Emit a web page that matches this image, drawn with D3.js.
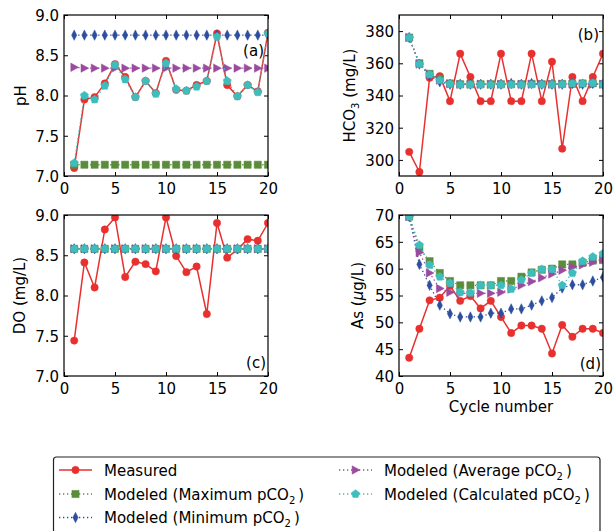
<!DOCTYPE html>
<html>
<head>
<meta charset="utf-8">
<script src="https://cdn.jsdelivr.net/npm/d3@7"></script>
<style>
  html, body { margin: 0; padding: 0; background: #fff; }
  svg { display: block; font-family: "DejaVu Sans", sans-serif; }
</style>
</head>
<body>
<svg id="chart" width="614" height="531"></svg>
<script>
// ---------------- DATA ----------------
const cycles = [1, 2, 3, 4, 5, 6, 7, 8, 9, 10, 11, 12, 13, 14, 15, 16, 17, 18, 19, 20];
const xTicks = [0, 5, 10, 15, 20];

// (a) pH
const phMeasured = [7.10, 7.95, 7.98, 8.15, 8.39, 8.23, 7.98, 8.18, 8.03, 8.43, 8.07, 8.06, 8.13, 8.18, 8.77, 8.13, 7.99, 8.13, 8.05, 8.78];
const phMax = [7.14, 7.14, 7.14, 7.14, 7.14, 7.14, 7.14, 7.14, 7.14, 7.14, 7.14, 7.14, 7.14, 7.14, 7.14, 7.14, 7.14, 7.14, 7.14, 7.14];
const phMin = [8.75, 8.75, 8.75, 8.75, 8.75, 8.75, 8.75, 8.75, 8.75, 8.75, 8.75, 8.75, 8.75, 8.75, 8.75, 8.75, 8.75, 8.75, 8.75, 8.75];
const phAvg = [8.35, 8.34, 8.34, 8.34, 8.34, 8.34, 8.34, 8.34, 8.34, 8.34, 8.34, 8.34, 8.34, 8.34, 8.34, 8.34, 8.34, 8.34, 8.34, 8.34];
const phCalc = [7.16, 8.00, 7.95, 8.12, 8.38, 8.20, 7.98, 8.18, 8.02, 8.40, 8.08, 8.06, 8.11, 8.18, 8.73, 8.18, 7.99, 8.13, 8.04, 8.77];
const phTicks = [7.0, 7.5, 8.0, 8.5, 9.0];

// (b) HCO3
const hcoMeasured = [305, 292.5, 351, 352, 336.5, 366, 351.5, 336.5, 336.5, 366, 336.5, 336.5, 366, 336.5, 361, 307, 351.5, 336.5, 351.5, 366];
const hcoMax = [376, 360, 353.5, 350.5, 347.5, 347, 347, 347, 347, 347, 347, 347, 347.2, 347, 347, 347.2, 347.2, 347.5, 347.5, 347];
const hcoMin = [376, 359.5, 352.5, 348.5, 347, 347, 347, 347, 347, 347, 347.5, 347, 347.5, 347, 347, 347, 347.5, 347, 347.5, 347];
const hcoAvg = [376, 359.5, 353, 349.5, 347.2, 347, 347, 347, 347, 347, 347, 347, 347, 347, 347, 347, 347, 347, 347, 347];
const hcoCalc = [376, 359.5, 353, 349.5, 347.2, 346.8, 346.8, 346.8, 346.8, 346.8, 346.8, 346.8, 346.8, 346.8, 346.8, 347, 347.5, 347.5, 347.8, 347];
const hcoTicks = [300, 320, 340, 360, 380];

// (c) DO
const doMeasured = [7.44, 8.41, 8.10, 8.82, 8.97, 8.23, 8.42, 8.39, 8.30, 8.97, 8.49, 8.29, 8.36, 7.77, 8.90, 8.47, 8.57, 8.70, 8.68, 8.90];
const doMax = [8.58, 8.58, 8.58, 8.58, 8.58, 8.58, 8.58, 8.58, 8.58, 8.58, 8.58, 8.58, 8.58, 8.58, 8.58, 8.58, 8.58, 8.58, 8.58, 8.58];
const doMin = [8.58, 8.58, 8.58, 8.58, 8.58, 8.58, 8.58, 8.58, 8.58, 8.58, 8.58, 8.58, 8.58, 8.58, 8.58, 8.58, 8.58, 8.58, 8.58, 8.58];
const doAvg = [8.58, 8.58, 8.58, 8.58, 8.58, 8.58, 8.58, 8.58, 8.58, 8.58, 8.58, 8.58, 8.58, 8.58, 8.58, 8.58, 8.58, 8.58, 8.58, 8.58];
const doCalc = [8.58, 8.58, 8.58, 8.58, 8.58, 8.58, 8.58, 8.58, 8.58, 8.58, 8.58, 8.58, 8.58, 8.58, 8.58, 8.58, 8.58, 8.58, 8.58, 8.58];
const doTicks = [7.0, 7.5, 8.0, 8.5, 9.0];

// (d) As
const asMeasured = [43.4, 48.8, 54.1, 54.6, 56.8, 54.0, 54.9, 52.6, 54.0, 51.0, 48.0, 49.4, 49.4, 48.8, 44.2, 49.5, 47.3, 48.8, 48.8, 48.0];
const asMax = [69.7, 63.8, 61.4, 59.2, 57.7, 56.9, 56.9, 56.9, 56.9, 57.7, 57.7, 58.5, 59.3, 59.8, 60.0, 60.8, 60.8, 61.1, 61.5, 61.6];
const asMin = [69.7, 60.8, 56.9, 53.2, 51.6, 51.0, 51.0, 51.0, 51.7, 51.7, 52.5, 52.5, 53.2, 54.0, 54.6, 56.4, 57.0, 57.0, 57.7, 58.4];
const asAvg = [69.7, 63.0, 59.2, 56.3, 55.6, 55.4, 55.4, 55.4, 55.4, 55.6, 56.2, 56.9, 57.6, 58.3, 59.0, 59.7, 60.3, 60.7, 61.2, 61.8];
const asCalc = [69.7, 64.4, 60.7, 58.5, 57.3, 55.6, 55.5, 56.9, 56.9, 56.9, 56.2, 57.9, 59.2, 59.9, 59.9, 56.9, 59.2, 61.4, 62.2, 62.8];
const asTicks = [40, 45, 50, 55, 60, 65, 70];

const seriesNames = ["Measured", "Modeled (Maximum pCO2)", "Modeled (Minimum pCO2)", "Modeled (Average pCO2)", "Modeled (Calculated pCO2)"];

// ---------------- STYLE ----------------
const styles = [
  { color: "#e8302f", shape: "circle", solid: true },
  { color: "#5b8c3b", shape: "square", solid: false },
  { color: "#2d4d9e", shape: "diamond", solid: false },
  { color: "#9a4a9f", shape: "triangle", solid: false },
  { color: "#3ebdbd", shape: "pentagon", solid: false }
];

function markerPath(shape) {
  switch (shape) {
    case "circle": return d3.symbol(d3.symbolCircle, Math.PI * 3.7 * 3.7)();
    case "square": return "M-3.6,-3.6H3.6V3.6H-3.6Z";
    case "diamond": return "M0,-5.2L2.6,0L0,5.2L-2.6,0Z";
    case "triangle": return "M-3.4,-4.2L4.4,0L-3.4,4.2Z";
    case "pentagon": {
      const r = 4.3; const pts = [];
      for (let i = 0; i < 5; i++) {
        const a = -Math.PI / 2 + i * 2 * Math.PI / 5;
        pts.push([r * Math.cos(a), r * Math.sin(a)]);
      }
      return "M" + pts.map(p => p[0].toFixed(2) + "," + p[1].toFixed(2)).join("L") + "Z";
    }
  }
}

const svg = d3.select("#chart");
const FONT = 15;

const panels = [
  { key: "a", left: 64, top: 15, right: 268, bottom: 176, domain: [7, 9], ticks: phTicks, fmt: d3.format(".1f"),
    series: [phMeasured, phMax, phMin, phAvg, phCalc], tag: "(a)", tagX: 264, tagY: 56,
    ylabel: [{ t: "pH" }], ylabelX: 26 },
  { key: "b", left: 399, top: 15, right: 603, bottom: 176, domain: [290, 390], ticks: hcoTicks, fmt: d3.format("d"),
    series: [hcoMeasured, hcoMax, hcoMin, hcoAvg, hcoCalc], tag: "(b)", tagX: 599, tagY: 40,
    ylabel: [{ t: "HCO" }, { t: "3", sub: true }, { t: " (mg/L)", up: true }], ylabelX: 355 },
  { key: "c", left: 64, top: 215, right: 268, bottom: 376, domain: [7, 9], ticks: doTicks, fmt: d3.format(".1f"),
    series: [doMeasured, doMax, doMin, doAvg, doCalc], tag: "(c)", tagX: 266, tagY: 368,
    ylabel: [{ t: "DO (mg/L)" }], ylabelX: 25 },
  { key: "d", left: 399, top: 215, right: 603, bottom: 376, domain: [40, 70], ticks: asTicks, fmt: d3.format("d"),
    series: [asMeasured, asMax, asMin, asAvg, asCalc], tag: "(d)", tagX: 601, tagY: 369,
    ylabel: [{ t: "As (" }, { t: "μ", italic: true }, { t: "g/L)" }], ylabelX: 363, xlabel: "Cycle number" }
];

const defs = svg.append("defs");

panels.forEach(p => {
  const x = d3.scaleLinear().domain([0, 20]).range([p.left, p.right]);
  const y = d3.scaleLinear().domain(p.domain).range([p.bottom, p.top]);
  const g = svg.append("g");

  defs.append("clipPath").attr("id", "clip-" + p.key)
    .append("rect").attr("x", p.left).attr("y", p.top)
    .attr("width", p.right - p.left).attr("height", p.bottom - p.top);

  // axes with inward ticks
  const axB = d3.axisBottom(x).tickValues(xTicks).tickSizeInner(-4).tickSizeOuter(0).tickPadding(7).tickFormat(d3.format("d"));
  const axT = d3.axisTop(x).tickValues(xTicks).tickSizeInner(-4).tickSizeOuter(0).tickFormat("");
  const axL = d3.axisLeft(y).tickValues(p.ticks).tickSizeInner(-4).tickSizeOuter(0).tickPadding(5).tickFormat(p.fmt);
  const axR = d3.axisRight(y).tickValues(p.ticks).tickSizeInner(-4).tickSizeOuter(0).tickFormat("");

  const gb = g.append("g").attr("transform", `translate(0,${p.bottom})`).call(axB);
  const gt = g.append("g").attr("transform", `translate(0,${p.top})`).call(axT);
  const gl = g.append("g").attr("transform", `translate(${p.left},0)`).call(axL);
  const gr = g.append("g").attr("transform", `translate(${p.right},0)`).call(axR);
  [gb, gt, gl, gr].forEach(a => {
    a.select(".domain").remove();
    a.selectAll("line").attr("stroke", "#000").attr("stroke-width", 1);
    a.selectAll("text").attr("font-size", FONT).attr("fill", "#000").attr("font-family", "DejaVu Sans");
  });
  gb.selectAll("text").attr("dy", null).attr("y", 18);
  gl.selectAll("text").attr("dy", "0.36em");

  // data
  const plot = g.append("g").attr("clip-path", `url(#clip-${p.key})`);
  p.series.forEach((vals, si) => {
    const st = styles[si];
    const pts = cycles.map((c, i) => [c, vals[i]]);
    const line = d3.line().x(d => x(d[0])).y(d => y(d[1]));
    plot.append("path").attr("d", line(pts)).attr("fill", "none")
      .attr("stroke", st.color)
      .attr("stroke-width", st.solid ? 1.5 : 1.3)
      .attr("stroke-dasharray", st.solid ? null : "1.3,2.7");
    plot.selectAll(null).data(pts).enter().append("path")
      .attr("d", markerPath(st.shape))
      .attr("transform", d => `translate(${x(d[0])},${y(d[1])})`)
      .attr("fill", st.color)
      .attr("stroke", st.color).attr("stroke-width", 0.5);
  });

  // frame
  g.append("rect").attr("x", p.left).attr("y", p.top)
    .attr("width", p.right - p.left).attr("height", p.bottom - p.top)
    .attr("fill", "none").attr("stroke", "#000").attr("stroke-width", 1.2);

  // panel tag
  g.append("text").attr("x", p.tagX).attr("y", p.tagY).attr("text-anchor", "end")
    .attr("font-size", FONT).text(p.tag);

  // y label
  const yl = g.append("text")
    .attr("transform", `translate(${p.ylabelX},${(p.top + p.bottom) / 2}) rotate(-90)`)
    .attr("text-anchor", "middle").attr("font-size", FONT);
  p.ylabel.forEach(part => {
    const ts = yl.append("tspan").text(part.t);
    if (part.sub) ts.attr("font-size", 10).attr("dy", 4);
    if (part.up) ts.attr("dy", -4);
    if (part.italic) ts.attr("font-style", "italic");
  });

  if (p.xlabel) {
    g.append("text").attr("x", (p.left + p.right) / 2).attr("y", 412)
      .attr("text-anchor", "middle").attr("font-size", FONT).text(p.xlabel);
  }
});

// ---------------- LEGEND ----------------
const lg = svg.append("g");
lg.append("rect").attr("x", 53.5).attr("y", 457).attr("width", 546.5).attr("height", 100)
  .attr("rx", 3).attr("fill", "#fff").attr("stroke", "#222").attr("stroke-width", 1.2);

const legendPos = [
  { col: 0, row: 0 }, { col: 0, row: 1 }, { col: 0, row: 2 }, { col: 1, row: 0 }, { col: 1, row: 1 }
];
const colX = [{ x0: 59, x1: 92, tx: 104 }, { x0: 339, x1: 372, tx: 384 }];
const rowY = [470, 494, 517.5];

seriesNames.forEach((name, i) => {
  const st = styles[i];
  const c = colX[legendPos[i].col];
  const yy = rowY[legendPos[i].row];
  lg.append("line").attr("x1", c.x0).attr("x2", c.x1).attr("y1", yy).attr("y2", yy)
    .attr("stroke", st.color).attr("stroke-width", st.solid ? 1.5 : 1.3)
    .attr("stroke-dasharray", st.solid ? null : "1.3,2.7");
  lg.append("path").attr("d", markerPath(st.shape))
    .attr("transform", `translate(${(c.x0 + c.x1) / 2},${yy})`)
    .attr("fill", st.color).attr("stroke", st.color).attr("stroke-width", 0.5);
  const t = lg.append("text").attr("x", c.tx).attr("y", yy + 5.5).attr("font-size", FONT);
  if (name.endsWith("pCO2)")) {
    t.append("tspan").text(name.slice(0, -2));
    t.append("tspan").text("2").attr("font-size", 10).attr("dy", 4);
    t.append("tspan").text(")").attr("dy", -4).attr("dx", 3);
  } else {
    t.text(name);
  }
});
</script>
</body>
</html>
